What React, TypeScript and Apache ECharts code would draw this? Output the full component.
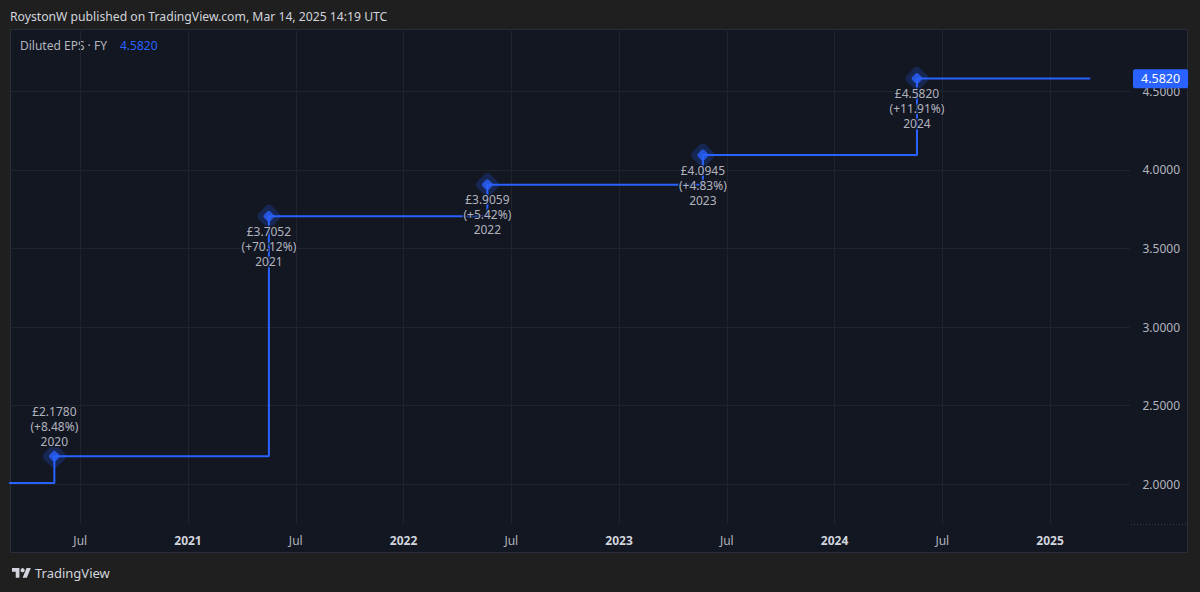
import React, { useEffect, useRef } from 'react';
import * as echarts from 'echarts';

// ---- data ----
const fyLabels = ['2020', '2021', '2022', '2023', '2024'];
const reportDates = ['2020-05-19', '2021-05-18', '2022-05-23', '2023-05-23', '2024-05-20'];
const epsValues = [2.178, 3.7052, 3.9059, 4.0945, 4.582];
const epsChanges = ['+8.48%', '+70.12%', '+5.42%', '+4.83%', '+11.91%'];
const labelAbove = [true, false, false, false, false];
const priorDate = '2019-05-20';
const priorValue = 2.0077;
const lastDate = '2025-03-10';
const xRange = [2020.174, 2025.371];
const yRange = [1.747, 4.897];

const FONT = '"Noto Sans", "Open Sans", sans-serif';
const BLUE = '#2962ff';

function toYear(d: string): number {
  const [y, m, dd] = d.split('-').map(Number);
  const s = Date.UTC(y, 0, 1);
  const e = Date.UTC(y + 1, 0, 1);
  return y + (Date.UTC(y, m - 1, dd) - s) / (e - s);
}

const LOGO_PATH = 'M14 22H7V11H0V4h14v18zM28 22h-8l7.5-18h8L28 22z';

export default function App() {
  const ref = useRef<HTMLDivElement>(null);
  useEffect(() => {
    if (!ref.current) return;
    echarts.graphic.registerShape('tvlogo', echarts.graphic.extendPath(LOGO_PATH, {}) as any);
    const chart = echarts.init(ref.current, null, { renderer: 'svg' });

    const linePts: number[][] = [[toYear(priorDate), priorValue]];
    reportDates.forEach((d, i) => linePts.push([toYear(d), epsValues[i]]));
    linePts.push([toYear(lastDate), epsValues[epsValues.length - 1]]);
    const pts = reportDates.map((d, i) => [toYear(d), epsValues[i]]);
    const last = epsValues[epsValues.length - 1];

    const ls = 0.53;
    chart.setOption({
      animation: false,
      backgroundColor: '#1f1f1f',
      textStyle: { fontFamily: FONT },
      grid: { left: 10, right: 70, top: 29, bottom: 68 },
      xAxis: {
        type: 'value',
        min: xRange[0],
        max: xRange[1],
        splitNumber: 10,
        axisLine: { show: false },
        axisTick: { show: false },
        splitLine: { show: true, showMinLine: false, showMaxLine: false, lineStyle: { color: '#20242d', width: 1 } },
        axisLabel: {
          showMinLabel: false,
          showMaxLabel: false,
          margin: 10,
          fontSize: 12,
          color: '#b2b5be',
          fontFamily: FONT,
          formatter: (v: number) => {
            if (Math.abs(v - Math.round(v)) < 1e-6) return `{yr|${Math.round(v)}}`;
            if (Math.abs(v - Math.floor(v) - 0.5) < 1e-6) return 'Jul';
            return '';
          },
          rich: { yr: { fontWeight: 'bold', color: '#d1d4dc', fontSize: 12, fontFamily: FONT } },
        },
      },
      yAxis: {
        type: 'value',
        position: 'right',
        min: yRange[0],
        max: yRange[1],
        splitNumber: 5,
        axisLine: { show: false },
        axisTick: { show: false },
        splitLine: { show: true, showMinLine: false, showMaxLine: false, lineStyle: { color: '#20242d', width: 1 } },
        axisLabel: {
          showMinLabel: false,
          showMaxLabel: false,
          align: 'right',
          margin: 50,
          fontSize: 12,
          color: '#b2b5be',
          fontFamily: FONT,
          formatter: (v: number) => (Math.abs(v * 2 - Math.round(v * 2)) < 1e-6 ? v.toFixed(4) : ''),
        },
      },
      series: [
        {
          type: 'scatter',
          z: 1,
          symbol: 'roundRect',
          symbolRotate: 45,
          symbolSize: 19,
          itemStyle: { color: 'rgba(41,98,255,0.28)' },
          data: pts,
          silent: true,
        },
        {
          type: 'line',
          z: 2,
          step: 'end',
          showSymbol: false,
          symbol: 'none',
          lineStyle: { color: BLUE, width: 2 },
          data: linePts,
          markLine: {
            silent: true,
            symbol: ['none', 'none'],
            lineStyle: { color: 'rgba(0,0,0,0)', width: 0 },
            data: [{ yAxis: last }],
            label: {
              show: true,
              position: 'end',
              distance: 3,
              formatter: () => last.toFixed(4),
              backgroundColor: BLUE,
              color: '#ffffff',
              fontSize: 12.5,
              fontFamily: FONT,
              padding: [3, 8, 3, 8],
              borderRadius: 2,
            },
          },
        },
        {
          type: 'scatter',
          z: 4,
          symbol: 'roundRect',
          symbolRotate: 45,
          symbolSize: 9,
          itemStyle: { color: BLUE },
          data: pts,
          silent: true,
        },
        {
          type: 'scatter',
          z: 5,
          symbolSize: 1,
          itemStyle: { color: 'rgba(0,0,0,0)' },
          silent: true,
          data: pts.map((p, i) => ({
            value: p,
            label: { position: labelAbove[i] ? 'top' : 'bottom' },
          })),
          label: {
            show: true,
            distance: 7,
            fontSize: 12,
            lineHeight: 15,
            color: '#dcdee4',
            fontFamily: FONT,
            align: 'center',
            textBorderColor: '#131722',
            textBorderWidth: 3,
            formatter: (p: any) => {
              const i = p.dataIndex;
              return `£${epsValues[i].toFixed(4)}\n(${epsChanges[i]})\n${fyLabels[i]}`;
            },
          },
        },
      ],
      graphic: [
        {
          type: 'rect',
          z: -10,
          silent: true,
          shape: { x: 10.5, y: 29.5, width: 1177, height: 523 },
          style: { fill: '#131722', stroke: '#2a2e39', lineWidth: 1 },
        },
        {
          type: 'line',
          z: -5,
          silent: true,
          shape: { x1: 1131, y1: 524.5, x2: 1187, y2: 524.5 },
          style: { stroke: '#3a3e49', lineWidth: 1, lineDash: [1, 2] },
        },
        {
          type: 'text',
          x: 10,
          y: 16,
          style: {
            text: 'RoystonW published on TradingView.com, Mar 14, 2025 14:19 UTC',
            fill: '#d1d4dc',
            font: `12.2px ${FONT}`,
            verticalAlign: 'middle',
          },
        },
        {
          type: 'text',
          x: 20,
          y: 45,
          style: {
            text: `{a|Diluted EPS · FY}{b|${last.toFixed(4)}}`,
            verticalAlign: 'middle',
            rich: {
              a: { fill: '#b2b5be', font: `12px ${FONT}` },
              b: { fill: BLUE, font: `12px ${FONT}`, padding: [0, 0, 0, 13] },
            },
          },
        },
        {
          type: 'tvlogo',
          x: 12,
          y: 566,
          scaleX: ls,
          scaleY: ls,
          style: { fill: '#d1d4dc' },
        },
        {
          type: 'circle',
          shape: { cx: 12 + 20 * ls, cy: 566 + 8 * ls, r: 4 * ls },
          style: { fill: '#d1d4dc' },
        },
        {
          type: 'text',
          x: 35,
          y: 573,
          style: {
            text: 'TradingView',
            fill: '#d1d4dc',
            font: `13px ${FONT}`,
            verticalAlign: 'middle',
          },
        },
      ],
    } as any);
    return () => chart.dispose();
  }, []);
  return <div ref={ref} style={{ position: 'fixed', left: 0, top: 0, width: 1200, height: 592 }} />;
}
